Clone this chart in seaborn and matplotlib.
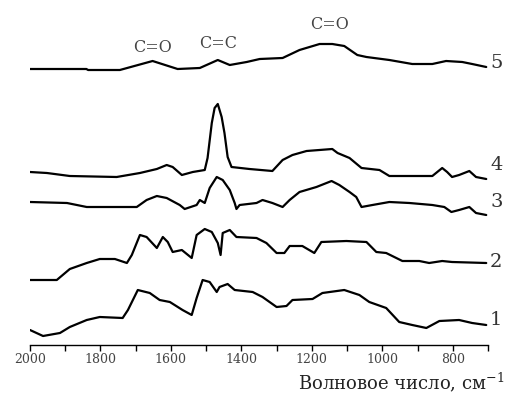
import numpy as np
import pandas as pd
import matplotlib
matplotlib.use("Agg")
import matplotlib.pyplot as plt
from matplotlib.ticker import MultipleLocator
import seaborn as sns

# ---------------- data ----------------
wn1 = [2000, 1963, 1915, 1887, 1839, 1802, 1737, 1722, 1694, 1660, 1632, 1603, 1567, 1541,
       1527, 1510, 1490, 1470, 1462, 1439, 1419, 1368, 1340, 1300, 1272, 1255, 1198, 1170,
       1108, 1065, 1037, 989, 952, 915, 875, 838, 782, 745, 705]
ab1 = [0.15, 0.09, 0.12, 0.18, 0.25, 0.28, 0.27, 0.35, 0.55, 0.52, 0.45, 0.43, 0.35, 0.30,
       0.47, 0.65, 0.63, 0.53, 0.58, 0.61, 0.55, 0.53, 0.48, 0.38, 0.39, 0.45, 0.46, 0.52,
       0.55, 0.50, 0.43, 0.37, 0.23, 0.20, 0.17, 0.24, 0.25, 0.22, 0.20]

wn2 = [2000, 1924, 1887, 1839, 1802, 1759, 1725, 1711, 1688, 1669, 1640, 1623, 1609, 1595,
       1569, 1541, 1527, 1504, 1484, 1467, 1459, 1453, 1433, 1414, 1357, 1329, 1300, 1278,
       1263, 1227, 1193, 1173, 1102, 1045, 1017, 989, 943, 895, 867, 830, 802, 705]
ab2 = [0.65, 0.65, 0.76, 0.82, 0.86, 0.86, 0.82, 0.90, 1.10, 1.08, 0.97, 1.08, 1.03, 0.93,
       0.95, 0.87, 1.10, 1.16, 1.13, 1.02, 0.90, 1.12, 1.15, 1.08, 1.07, 1.02, 0.92, 0.92,
       0.99, 0.99, 0.92, 1.03, 1.04, 1.03, 0.93, 0.92, 0.84, 0.84, 0.82, 0.84, 0.83, 0.82]

wn3 = [2000, 1895, 1839, 1697, 1669, 1640, 1612, 1575, 1561, 1527, 1518, 1504, 1490, 1470,
       1453, 1433, 1419, 1414, 1405, 1357, 1340, 1312, 1283, 1263, 1235, 1187, 1144, 1122,
       1093, 1074, 1059, 1028, 980, 923, 858, 824, 804, 782, 753, 734, 705]
ab3 = [1.43, 1.42, 1.38, 1.38, 1.45, 1.49, 1.47, 1.40, 1.36, 1.40, 1.45, 1.42, 1.57, 1.68,
       1.65, 1.55, 1.42, 1.36, 1.40, 1.42, 1.45, 1.42, 1.38, 1.45, 1.53, 1.58, 1.64, 1.60,
       1.53, 1.48, 1.38, 1.40, 1.43, 1.42, 1.40, 1.38, 1.33, 1.35, 1.38, 1.32, 1.30]

wn4 = [2000, 1952, 1887, 1754, 1688, 1640, 1612, 1595, 1569, 1538, 1504, 1496, 1484, 1476,
       1467, 1456, 1448, 1439, 1428, 1377, 1312, 1283, 1255, 1215, 1142, 1127, 1093, 1059,
       1008, 980, 858, 830, 816, 802, 782, 753, 734, 705]
ab4 = [1.73, 1.72, 1.69, 1.68, 1.72, 1.76, 1.80, 1.78, 1.70, 1.73, 1.75, 1.87, 2.22, 2.37,
       2.41, 2.28, 2.12, 1.88, 1.78, 1.76, 1.74, 1.85, 1.90, 1.94, 1.96, 1.92, 1.87, 1.77,
       1.75, 1.69, 1.69, 1.77, 1.73, 1.68, 1.70, 1.74, 1.68, 1.66]

wn5 = [2000, 1840, 1835, 1745, 1652, 1581, 1518, 1467, 1433, 1385, 1348, 1283, 1235, 1178,
       1142, 1108, 1071, 1045, 980, 915, 858, 819, 773, 745, 705]
ab5 = [2.76, 2.76, 2.75, 2.75, 2.84, 2.76, 2.77, 2.85, 2.80, 2.83, 2.86, 2.87, 2.95, 3.01,
       3.01, 2.99, 2.90, 2.88, 2.85, 2.81, 2.81, 2.84, 2.83, 2.81, 2.78]

curve_names = ["1", "2", "3", "4", "5"]
label_y = [0.25, 0.83, 1.43, 1.80, 2.82]

band_names = ["C=O", "C=C", "C=O"]
band_x = [1652, 1467, 1150]
band_y = [2.98, 3.02, 3.21]

x_ticks = [2000, 1800, 1600, 1400, 1200, 1000, 800]

# ---------------- build table ----------------
frames = []
for name, wn, ab in zip(curve_names, [wn1, wn2, wn3, wn4, wn5], [ab1, ab2, ab3, ab4, ab5]):
    frames.append(pd.DataFrame({"wn": wn, "ab": ab, "curve": name}))
df = pd.concat(frames, ignore_index=True)

# ---------------- plot ----------------
sns.set_theme(style="white")
plt.rcParams["font.family"] = ["DejaVu Serif", "DejaVu Sans"]
plt.rcParams["mathtext.fontset"] = "dejavuserif"

fig = plt.figure(figsize=(5.07, 3.98), dpi=100)
ax = fig.add_axes([30 / 507, 53 / 398, 458 / 507, 335 / 398])

sns.lineplot(data=df, x="wn", y="ab", units="curve", estimator=None, sort=False,
             color="black", linewidth=1.6, ax=ax, legend=False)

ax.set_xlim(2000, 700)
ax.set_ylim(0, 3.35)

for name, y in zip(curve_names, label_y):
    ax.text(694, y, name, fontsize=14, color="#333333", ha="left", va="center",
            clip_on=False)

for name, x, y in zip(band_names, band_x, band_y):
    ax.text(x, y, name, fontsize=11.5, color="#444444", ha="center", va="center")

for s in ["top", "right", "left"]:
    ax.spines[s].set_visible(False)
ax.spines["bottom"].set_color("black")
ax.spines["bottom"].set_linewidth(1.0)

ax.set_yticks([])
ax.set_xticks(x_ticks)
ax.set_xticklabels([str(t) for t in x_ticks])
ax.xaxis.set_minor_locator(MultipleLocator(100))
ax.tick_params(axis="x", which="both", direction="out", bottom=True, length=4,
               width=1.0, color="black", labelsize=9, labelcolor="#444444", pad=2)

ax.set_xlabel("Волновое число, см$^{-1}$", fontsize=13, color="#222222", ha="right")
ax.xaxis.set_label_coords(1.035, -0.075)
ax.set_ylabel("")

fig.savefig("out.png", dpi=100)
